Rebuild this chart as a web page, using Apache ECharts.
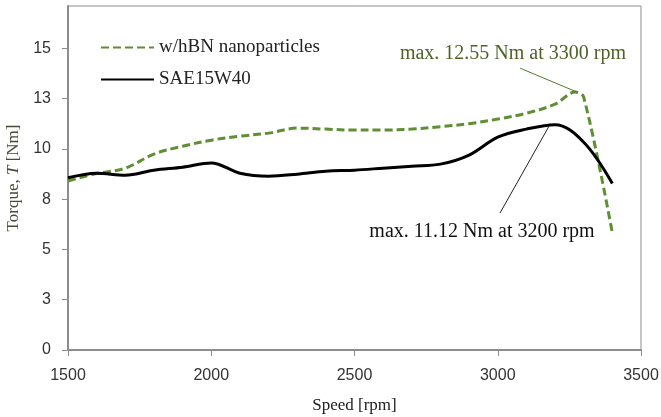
<!DOCTYPE html>
<html><head><meta charset="utf-8">
<script src="https://cdn.jsdelivr.net/npm/echarts@6/dist/echarts.min.js"></script>
<style>html,body{margin:0;padding:0;background:#fff}#c{width:661px;height:417px}</style>
</head><body><div id="c"></div>
<script>
const speeds = [1500,1600,1700,1800,1900,2000,2100,2200,2300,2400,2500,2600,2700,2800,2900,3000,3100,3200,3270,3300,3400];
const hbn    = [8.40,8.77,9.04,9.74,10.13,10.43,10.63,10.78,11.03,10.98,10.93,10.93,10.98,11.10,11.25,11.48,11.77,12.22,12.82,12.57,5.81];
const sae    = [8.56,8.79,8.69,8.94,9.09,9.30,8.79,8.64,8.74,8.89,8.94,9.04,9.14,9.24,9.69,10.58,10.98,11.20,null,10.33,8.28];
const yTicks = [0,2.5,5,7.5,10,12.5,15];
const xTicks = [1500,2000,2500,3000,3500];
const seriesNames = ['w/hBN nanoparticles','SAE15W40'];
const annHbn = {text:'max. 12.55 Nm at 3300 rpm', textAt:[3053,14.72], from:[3078,14.01], to:[3277,12.82]};
const annSae = {text:'max. 11.12 Nm at 3200 rpm', textAt:[2945,5.86], from:[3008,6.81], to:[3179,11.13]};

const green = '#5E8F32';
const serif = 'Liberation Serif';
const sans = 'Liberation Sans';

const chart = echarts.init(document.getElementById('c'), null, {renderer:'canvas'});
const pair = (xs, ys) => xs.map((x,i)=>[x, ys[i]]).filter(p=>p[1]!==null);

chart.setOption({
  animation:false,
  textStyle:{fontFamily:serif},
  grid:{left:68,right:20,top:6,bottom:67,outerBoundsMode:'none',containLabel:false,show:true,borderColor:'#8c8c8c',borderWidth:1,backgroundColor:'transparent'},
  legend:{
    orient:'vertical', left:95, top:33, itemWidth:53, itemHeight:14, itemGap:13,
    itemStyle:{opacity:0},
    textStyle:{fontFamily:serif,fontSize:19,color:'#222'},
    data:seriesNames
  },
  xAxis:{
    type:'value', min:1500, max:3500, interval:500,
    name:'Speed [rpm]', nameLocation:'middle', nameGap:47,
    nameTextStyle:{fontFamily:serif,fontSize:17,color:'#222'},
    axisLine:{lineStyle:{color:'#8c8c8c',width:2}},
    axisTick:{show:true,inside:false,length:6,lineStyle:{color:'#8c8c8c'},customValues:xTicks},
    axisLabel:{fontFamily:sans,fontSize:16,color:'#333',margin:18,customValues:xTicks,formatter:v=>String(v)},
    splitLine:{show:false}
  },
  yAxis:{
    type:'value', min:0, max:17.1,
    name:'{a|Torque, }{b|T}{a| [Nm]}', nameLocation:'middle', nameGap:40,
    nameTextStyle:{rich:{a:{fontFamily:serif,fontSize:17,color:'#4a4a3a'},b:{fontFamily:serif,fontSize:17,fontStyle:'italic',color:'#4a4a3a'}}},
    axisLine:{show:true,lineStyle:{color:'#8c8c8c',width:2}},
    axisTick:{show:true,inside:false,length:6,lineStyle:{color:'#8c8c8c'},customValues:yTicks},
    axisLabel:{fontFamily:sans,fontSize:16,color:'#333',margin:17,customValues:yTicks,formatter:v=>String(Math.round(v))},
    splitLine:{show:false}
  },
  series:[
    {
      name:seriesNames[0], type:'line', smooth:0.35, symbol:'none',
      data:pair(speeds,hbn),
      lineStyle:{color:green,width:3,type:[8,4]},
      itemStyle:{color:green},
      z:3,
      markLine:{
        silent:true, symbol:['none','arrow'], symbolSize:[0,11],
        lineStyle:{color:'#4F7A2E',width:1,type:'solid'},
        label:{show:false},
        data:[[{coord:annHbn.from},{coord:annHbn.to}]]
      },
      markPoint:{
        silent:true, symbol:'circle', symbolSize:0,
        label:{show:true,position:'inside',formatter:annHbn.text,fontFamily:serif,fontSize:20,color:'#4F6228'},
        data:[{coord:annHbn.textAt}]
      }
    },
    {
      name:seriesNames[1], type:'line', smooth:0.35, symbol:'none', connectNulls:true,
      data:pair(speeds,sae),
      lineStyle:{color:'#000',width:3},
      itemStyle:{color:'#000'},
      z:4,
      markLine:{
        silent:true, symbol:['none','arrow'], symbolSize:[0,11],
        lineStyle:{color:'#222',width:1,type:'solid'},
        label:{show:false},
        data:[[{coord:annSae.from},{coord:annSae.to}]]
      },
      markPoint:{
        silent:true, symbol:'circle', symbolSize:0,
        label:{show:true,position:'inside',formatter:annSae.text,fontFamily:serif,fontSize:20,color:'#111'},
        data:[{coord:annSae.textAt}]
      }
    }
  ]
});
</script>
</body></html>
